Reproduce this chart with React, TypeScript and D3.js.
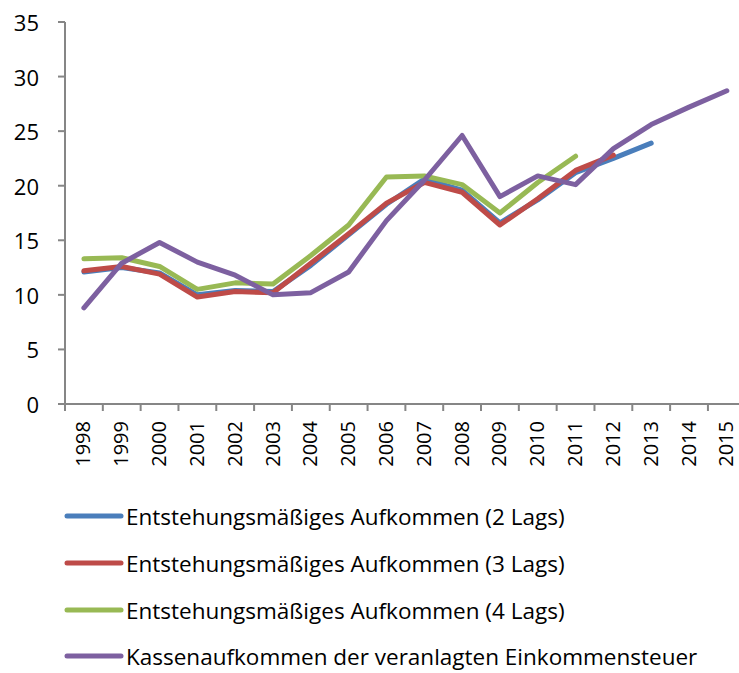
import React, { useEffect, useRef } from "react";
import * as d3 from "d3";

const years = ["1998","1999","2000","2001","2002","2003","2004","2005","2006","2007","2008","2009","2010","2011","2012","2013","2014","2015"];
const lags2 = [12.1, 12.5, 12.0, 10.0, 10.4, 10.3, 12.7, 15.5, 18.3, 20.6, 19.6, 16.6, 18.7, 21.2, 22.5, 23.9, null, null];
const lags3 = [12.2, 12.6, 11.9, 9.8, 10.3, 10.2, 12.9, 15.6, 18.4, 20.3, 19.4, 16.4, 18.8, 21.4, 22.8, null, null, null];
const lags4 = [13.3, 13.4, 12.6, 10.5, 11.1, 11.0, 13.6, 16.4, 20.8, 20.9, 20.1, 17.5, 20.3, 22.7, null, null, null, null];
const kasse = [8.8, 12.9, 14.8, 13.0, 11.8, 10.0, 10.2, 12.1, 16.8, 20.5, 24.6, 19.0, 20.9, 20.1, 23.4, 25.6, 27.2, 28.7];
const yTicks = [0, 5, 10, 15, 20, 25, 30, 35];
const seriesNames = [
  "Entstehungsmäßiges Aufkommen (2 Lags)",
  "Entstehungsmäßiges Aufkommen (3 Lags)",
  "Entstehungsmäßiges Aufkommen (4 Lags)",
  "Kassenaufkommen der veranlagten Einkommensteuer",
];
const seriesColors = ["#4a7ebb", "#be4b48", "#98b954", "#7d60a0"];
const seriesData = [lags2, lags3, lags4, kasse];

const W = 739, H = 673;
const FONT = "'Open Sans', sans-serif";

export default function App() {
  const ref = useRef<SVGSVGElement>(null);
  useEffect(() => {
    const svg = d3.select(ref.current);
    svg.selectAll("*").remove();
    const x0 = 65, step = 37.82;
    const x = d3.scaleBand().domain(years).range([x0, x0 + step * years.length]);
    const y = d3.scaleLinear().domain([0, 35]).range([404, 22]);
    const axisColor = "#868686";

    // y axis
    svg.append("line").attr("x1", x0).attr("x2", x0).attr("y1", y(35)).attr("y2", y(0))
      .attr("stroke", axisColor).attr("stroke-width", 2);
    yTicks.forEach(t => {
      svg.append("line").attr("x1", x0 - 7).attr("x2", x0).attr("y1", y(t)).attr("y2", y(t))
        .attr("stroke", axisColor).attr("stroke-width", 2);
      svg.append("text").attr("x", 39).attr("y", y(t)).attr("text-anchor", "end")
        .attr("dominant-baseline", "central").attr("font-family", FONT).attr("font-size", 22)
        .attr("fill", "#000").text(String(t));
    });
    // x axis
    svg.append("line").attr("x1", x0).attr("x2", W).attr("y1", y(0)).attr("y2", y(0))
      .attr("stroke", axisColor).attr("stroke-width", 2);
    years.forEach((yr, i) => {
      const bx = x0 + i * step;
      svg.append("line").attr("x1", bx).attr("x2", bx).attr("y1", y(0)).attr("y2", y(0) + 7)
        .attr("stroke", axisColor).attr("stroke-width", 2);
      const cx = (x(yr) as number) + x.bandwidth() / 2;
      svg.append("text").attr("transform", `translate(${cx - 1},421) rotate(-90)`)
        .attr("text-anchor", "end").attr("dominant-baseline", "central")
        .attr("font-family", FONT).attr("font-size", 20).attr("fill", "#000").text(yr);
    });

    // lines
    const line = d3.line<number | null>()
      .defined(d => d !== null)
      .x((_, i) => (x(years[i]) as number) + x.bandwidth() / 2)
      .y(d => y(d as number));
    seriesData.forEach((data, k) => {
      svg.append("path").attr("d", line(data) as string).attr("fill", "none")
        .attr("stroke", seriesColors[k]).attr("stroke-width", 5)
        .attr("stroke-linejoin", "round").attr("stroke-linecap", "round");
    });

    // legend
    const rowY = [516, 563, 610, 656];
    seriesNames.forEach((name, k) => {
      svg.append("line").attr("x1", 67).attr("x2", 121).attr("y1", rowY[k]).attr("y2", rowY[k])
        .attr("stroke", seriesColors[k]).attr("stroke-width", 5).attr("stroke-linecap", "round");
      svg.append("text").attr("x", 126).attr("y", rowY[k]).attr("dominant-baseline", "central")
        .attr("font-family", FONT).attr("font-size", 22.5).attr("fill", "#000").text(name);
    });
  }, []);
  return (
    <svg ref={ref} width={W} height={H}
      style={{ position: "absolute", left: 0, top: 0, background: "#fff" }} />
  );
}
